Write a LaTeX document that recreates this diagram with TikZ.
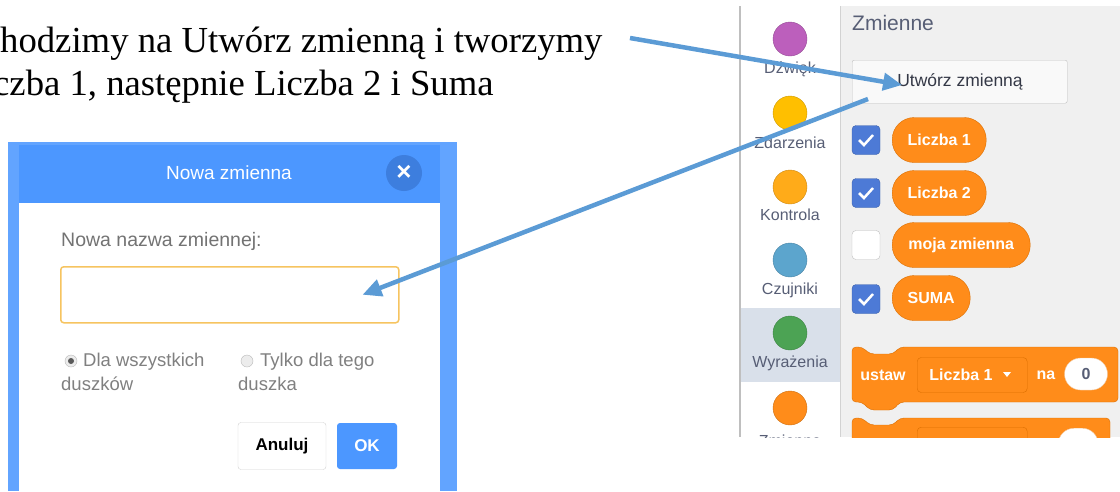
\documentclass[tikz,border=0pt]{standalone}
\usepackage{fontspec}
\setmainfont{Liberation Serif}
\newfontfamily\uifont{Liberation Sans}
\usetikzlibrary{arrows.meta}
\definecolor{scratchblue}{RGB}{76,151,255}
\definecolor{frameblue}{RGB}{98,164,255}
\definecolor{closeblue}{RGB}{61,126,222}
\definecolor{varorange}{RGB}{255,140,26}
\definecolor{varedge}{RGB}{219,110,0}
\definecolor{uigray}{RGB}{87,94,117}
\definecolor{arrowblue}{RGB}{91,155,213}
\definecolor{palettegray}{RGB}{240,240,240}
\definecolor{catsel}{RGB}{217,224,234}
\definecolor{checkblue}{RGB}{77,122,214}
\definecolor{boxorange}{RGB}{246,196,96}
\definecolor{soundcol}{RGB}{188,95,188}
\definecolor{eventscol}{RGB}{255,191,0}
\definecolor{controlcol}{RGB}{255,171,25}
\definecolor{sensingcol}{RGB}{92,165,205}
\definecolor{operatorscol}{RGB}{76,163,84}
\newcommand\uifs[1]{\uifont\fontsize{#1}{#1}\selectfont}

\begin{document}
\begin{tikzpicture}[x=1pt,y=-1pt,>={Triangle[length=19pt,width=17pt]},
  pill/.style={draw=varedge,fill=varorange,text=white,rounded corners=22pt,minimum height=45pt,inner sep=0pt,font=\uifs{16}\bfseries},
  tick/.style={draw=checkblue!80!black,fill=checkblue,rounded corners=4pt,minimum width=28pt,minimum height=29pt,inner sep=0pt},
  notick/.style={draw=gray!50,fill=white,rounded corners=4pt,minimum width=28pt,minimum height=29pt,inner sep=0pt},
  catdot/.style={circle,minimum size=34pt,inner sep=0pt,draw=#1!80!black,fill=#1},
  catlabel/.style={text=uigray,font=\uifs{16}},
  radio/.style={circle,draw=gray!55,fill=gray!15,minimum size=12pt,inner sep=0pt},
  optext/.style={anchor=west,inner sep=0pt,text=gray,font=\uifs{18.5}},
  ]
\useasboundingbox (0,0) rectangle (1120,491);

% text above the dialog
\node[anchor=base west,inner sep=0pt,font=\fontsize{36.7}{43}\selectfont] (line1) at (0,52) {hodzimy na Utwórz zmienną i tworzymy};
\node[anchor=base west,inner sep=0pt,font=\fontsize{36.7}{43}\selectfont] (line2) at (-7,95) {czba 1, następnie Liczba 2 i Suma};

% dialog
\fill[frameblue] (8,142) rectangle (457,491);
\fill[scratchblue] (19,145) rectangle (440,203);
\fill[white] (19,203) rectangle (440,491);
\node[text=white,font=\uifs{19}] (title) at (229,173) {Nowa zmienna};
\node[circle,fill=closeblue,minimum size=36pt,inner sep=0pt,text=white,font=\uifs{26}\bfseries] (closebtn) at (404,173) {×};

\node[anchor=west,inner sep=0pt,text=gray!90!black,font=\uifs{19.5}] (prompt) at (61,241) {Nowa nazwa zmiennej:};
\node[draw=boxorange,line width=1.5pt,rounded corners=3pt,minimum width=338pt,minimum height=56pt,anchor=north west] (namebox) at (60,266) {};

\node[radio] (radioall) at (71,361) {};
\fill[gray!70!black] (radioall) circle (3pt);
\node[optext] (allopt) at (83,362) {Dla wszystkich};
\node[optext] (allopt2) at (61,384) {duszków};
\node[radio] (radioone) at (247,361) {};
\node[optext] (oneopt) at (260,362) {Tylko dla tego};
\node[optext] (oneopt2) at (238,384) {duszka};

\node[draw=gray!35,rounded corners=3pt,minimum width=88pt,minimum height=47pt,font=\uifs{17}\bfseries] (cancelbtn) at (282,446) {Anuluj};
\node[fill=scratchblue,rounded corners=3pt,minimum width=60pt,minimum height=46pt,text=white,font=\uifs{17}\bfseries] (okbtn) at (367,446) {OK};

% scratch palette
\fill[palettegray] (840,6) rectangle (1120,437);
\fill[catsel] (741,308) rectangle (840,382);
\draw[gray!50,line width=1.2pt] (740,6) -- (740,437);
\draw[gray!35] (840,6) -- (840,437);

\begin{scope}
\clip (735,0) rectangle (1120,437);
\node[catdot=soundcol] (sound) at (790,39) {};
\node[catlabel] (soundlab) at (790,69) {Dźwięk};
\node[catdot=eventscol] (events) at (790,113) {};
\node[catlabel] (eventslab) at (790,143) {Zdarzenia};
\node[catdot=controlcol] (control) at (790,187) {};
\node[catlabel] (controllab) at (790,215) {Kontrola};
\node[catdot=sensingcol] (sensing) at (790,260) {};
\node[catlabel] (sensinglab) at (790,290) {Czujniki};
\node[catdot=operatorscol] (operators) at (790,333) {};
\node[catlabel] (operatorslab) at (790,363) {Wyrażenia};
\node[catdot=varorange] (variables) at (790,408) {};
\node[catlabel] (variableslab) at (790,441) {Zmienne};

\node[anchor=west,inner sep=0pt,text=uigray,font=\uifs{21}] (varhead) at (852,23) {Zmienne};
\node[draw=gray!50,fill=gray!5,rounded corners=2pt,minimum width=215pt,minimum height=43pt,anchor=north west] (newvar) at (852,60) {};
\node[inner sep=0pt,text=uigray!60!black,font=\uifs{17.5}] (newvarlab) at (960,82) {Utwórz zmienną};

\node[tick] (tickA) at (866,140) {};
\draw[white,line width=2.5pt] ([shift={(-7,0)}]tickA.center) -- ++(5,5) -- ++(9,-10);
\node[pill,minimum width=94pt,anchor=west] (numA) at (892,140) {Liczba 1};
\node[tick] (tickB) at (866,193) {};
\draw[white,line width=2.5pt] ([shift={(-7,0)}]tickB.center) -- ++(5,5) -- ++(9,-10);
\node[pill,minimum width=94pt,anchor=west] (numB) at (892,193) {Liczba 2};
\node[notick] (tickC) at (866,245) {};
\node[pill,minimum width=138pt,anchor=west] (myvar) at (892,245) {moja zmienna};
\node[tick] (tickD) at (866,299) {};
\draw[white,line width=2.5pt] ([shift={(-7,0)}]tickD.center) -- ++(5,5) -- ++(9,-10);
\node[pill,minimum width=78pt,anchor=west] (sum) at (892,298) {SUMA};

% set block
\path[fill=varorange,draw=varedge,rounded corners=4pt] (852,347) -- (862,347) -- (870,354) -- (893,354) -- (900,347) -- (1118,347) -- (1118,402) -- (900,402) -- (893,410) -- (870,410) -- (862,402) -- (852,402) -- cycle;
\node[text=white,font=\uifs{16}\bfseries] (setword) at (883,375) {ustaw};
\node[draw=varedge,fill=varorange,rounded corners=4pt,minimum width=110pt,minimum height=35pt,anchor=west] (dropA) at (917,375) {};
\node[inner sep=0pt,text=white,font=\uifs{16}\bfseries] (dropAlab) at (961,375) {Liczba 1};
\fill[white] (1003,372) -- (1011,372) -- (1007,377) -- cycle;
\node[text=white,font=\uifs{16}\bfseries] (naword) at (1046,375) {na};
\node[fill=white,draw=varedge!40,rounded corners=16pt,minimum width=43pt,minimum height=32pt,text=uigray,font=\uifs{16}\bfseries] (valA) at (1086,374) {0};

% next block, cut off
\path[fill=varorange,draw=varedge,rounded corners=4pt] (852,418) -- (862,418) -- (870,425) -- (893,425) -- (900,418) -- (1110,418) -- (1110,470) -- (852,470) -- cycle;
\node[draw=varedge,fill=varorange,rounded corners=4pt,minimum width=110pt,minimum height=35pt,anchor=north west] (dropB) at (917,427) {};
\node[fill=white,draw=varedge!40,rounded corners=16pt,minimum width=40pt,minimum height=32pt,anchor=north west] (valB) at (1058,428) {};
\end{scope}

% arrows
\coordinate (startA) at (630,38);
\coordinate (startB) at (868,99);
\draw[->,arrowblue,line width=4.5pt] (startA) -- ([shift={(5,3)}]newvarlab.west);
\draw[->,arrowblue,line width=4.5pt] (startB) -- ([xshift=-37pt]namebox.east);

\end{tikzpicture}
\end{document}
